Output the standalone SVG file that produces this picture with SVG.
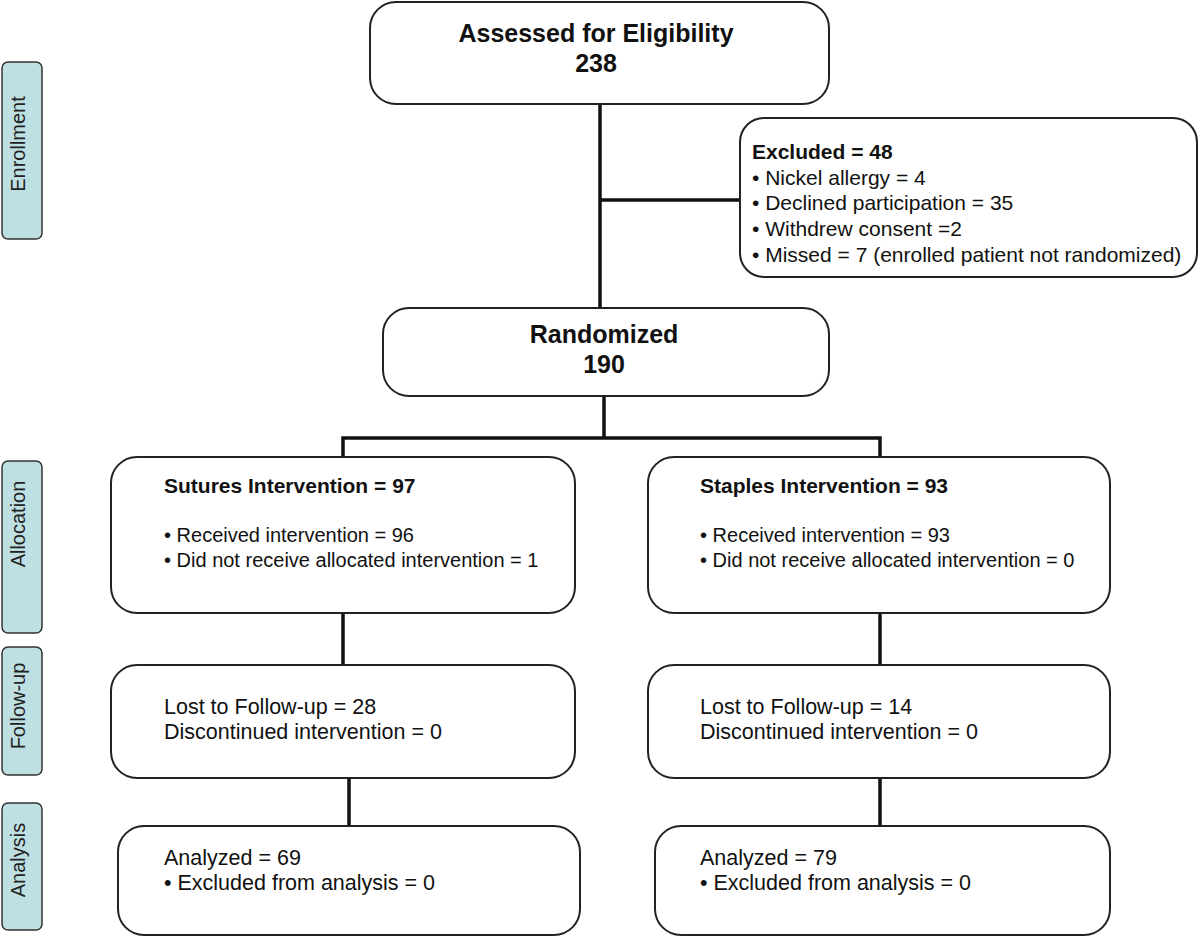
<svg xmlns="http://www.w3.org/2000/svg" width="1200" height="939" viewBox="0 0 1200 939">
<style>
.box{fill:#fff;stroke:#222;stroke-width:2}
.side{fill:#bfe0e3;stroke:#333;stroke-width:1.5}
.sidet{font-family:"Liberation Sans",Arial,sans-serif;font-size:20px;fill:#222;text-anchor:middle}
.t{font-family:"Liberation Sans",Arial,sans-serif;font-size:20px;fill:#111}
.tx{font-size:21px}
.tf{font-size:21.5px}
.b{font-weight:bold;font-size:21px}
.h{font-family:"Liberation Sans",Arial,sans-serif;font-size:25px;font-weight:bold;fill:#111;text-anchor:middle}
.c{fill:none;stroke:#111;stroke-width:3.5}
</style>
<rect width="1200" height="939" fill="#fff"/>
<g id="connectors">
<path class="c" d="M600 104V308"/>
<path class="c" d="M600 200H740"/>
<path class="c" d="M604 396V438"/>
<path class="c" d="M343 458V438H880V458"/>
<path class="c" d="M343 613V665"/>
<path class="c" d="M880 613V665"/>
<path class="c" d="M349 778V826"/>
<path class="c" d="M880 778V826"/>
</g>
<g id="side-enrollment"><rect class="side" x="2" y="62" width="40" height="177" rx="6"/><text class="sidet" transform="translate(25,144) rotate(-90)">Enrollment</text></g>
<g id="side-allocation"><rect class="side" x="2" y="461" width="40" height="172" rx="6"/><text class="sidet" transform="translate(25,524) rotate(-90)">Allocation</text></g>
<g id="side-followup"><rect class="side" x="2" y="647" width="40" height="128" rx="6"/><text class="sidet" transform="translate(25,706) rotate(-90)">Follow-up</text></g>
<g id="side-analysis"><rect class="side" x="2" y="803" width="40" height="127" rx="6"/><text class="sidet" transform="translate(25,860) rotate(-90)">Analysis</text></g>
<g id="assessed"><rect class="box" x="370" y="2" width="459" height="102" rx="26"/><text class="h" x="596" y="42">Assessed for Eligibility</text><text class="h" x="596" y="72">238</text></g>
<g id="excluded"><rect class="box" x="740" y="118" width="457" height="159" rx="24"/>
<text class="t b" x="752" y="159">Excluded = 48</text>
<text class="t tx" x="752" y="185">• Nickel allergy = 4</text>
<text class="t tx" x="752" y="210">• Declined participation = 35</text>
<text class="t tx" x="752" y="236">• Withdrew consent =2</text>
<text class="t tx" x="752" y="262">• Missed = 7 (enrolled patient not randomized)</text></g>
<g id="randomized"><rect class="box" x="383" y="308" width="446" height="88" rx="26"/><text class="h" x="604" y="343">Randomized</text><text class="h" x="604" y="373">190</text></g>
<g id="sutures"><rect class="box" x="111" y="457" width="464" height="156" rx="26"/>
<text class="t b" x="164" y="493">Sutures Intervention = 97</text>
<text class="t" x="164" y="542">• Received intervention = 96</text>
<text class="t" x="164" y="567">• Did not receive allocated intervention = 1</text></g>
<g id="staples"><rect class="box" x="648" y="457" width="462" height="156" rx="26"/>
<text class="t b" x="700" y="493">Staples Intervention = 93</text>
<text class="t" x="700" y="542">• Received intervention = 93</text>
<text class="t" x="700" y="567">• Did not receive allocated intervention = 0</text></g>
<g id="followup-sutures"><rect class="box" x="111" y="665" width="464" height="113" rx="26"/>
<text class="t tf" x="164" y="714">Lost to Follow-up = 28</text>
<text class="t tf" x="164" y="739">Discontinued intervention = 0</text></g>
<g id="followup-staples"><rect class="box" x="648" y="665" width="462" height="113" rx="26"/>
<text class="t tf" x="700" y="714">Lost to Follow-up = 14</text>
<text class="t tf" x="700" y="739">Discontinued intervention = 0</text></g>
<g id="analysis-sutures"><rect class="box" x="118" y="826" width="462" height="109" rx="26"/>
<text class="t tf" x="164" y="865">Analyzed = 69</text>
<text class="t tf" x="164" y="890">• Excluded from analysis = 0</text></g>
<g id="analysis-staples"><rect class="box" x="655" y="826" width="455" height="109" rx="26"/>
<text class="t tf" x="700" y="865">Analyzed = 79</text>
<text class="t tf" x="700" y="890">• Excluded from analysis = 0</text></g>
</svg>
